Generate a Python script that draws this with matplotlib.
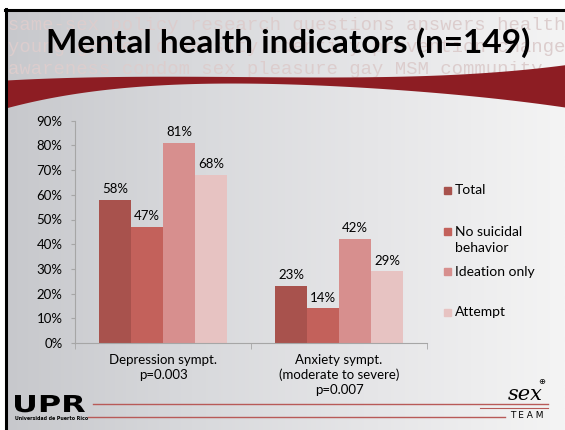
import numpy as np
import matplotlib.pyplot as plt
from matplotlib.colors import LinearSegmentedColormap
from matplotlib.patches import Rectangle, PathPatch
from matplotlib.textpath import TextPath
from matplotlib.font_manager import FontProperties
from matplotlib.transforms import Affine2D

plt.rcParams['font.family'] = ['Lato', 'DejaVu Sans']

# data
categories = ['Depression sympt.\np=0.003', 'Anxiety sympt.\n(moderate to severe)\np=0.007']
groups = ['Total', 'No suicidal\nbehavior', 'Ideation only', 'Attempt']
total = [58, 23]
no_suicidal = [47, 14]
ideation = [81, 42]
attempt = [68, 29]
yticks = [0, 10, 20, 30, 40, 50, 60, 70, 80, 90]
colors = ['#a8524d', '#c3615b', '#d78f8e', '#e7c3c2']

W, H = 565, 430
fig = plt.figure(figsize=(W / 100, H / 100), dpi=100)

# slide background in pixel coords
bg = fig.add_axes([0, 0, 1, 1])
grad = np.linspace(0, 1, 256).reshape(1, -1)
cmap = LinearSegmentedColormap.from_list('slide', ['#c7c8cc', '#d8d9dc', '#e6e6e8', '#f4f4f4'])
bg.imshow(grad, cmap=cmap, extent=[5, W, H, 9], aspect='auto', zorder=0)
bg.set_xlim(0, W)
bg.set_ylim(H, 0)
bg.axis('off')
bg.plot([6, 6], [9, H], color='black', lw=2.2, zorder=5)
bg.plot([5, W], [10, 10], color='black', lw=2.2, zorder=5)

# watermark words behind the title
wm = ['same-sex policy research questions answers health',
      'young gender diversity identity prevention change',
      'awareness condom sex pleasure gay MSM community']
for row, y in zip(wm, [25, 47, 70]):
    bg.text(8, y, row, family='Liberation Mono', fontsize=13.6, color='#dccdcd',
            ha='left', va='center', zorder=1)

# red swoosh
xs = np.linspace(5, W, 300)
top = np.polyval(np.polyfit([5, 100, 200, 330, 450, 520, 565],
                            [80, 77, 76, 77, 75, 69, 65], 4), xs)
bot = np.polyval(np.polyfit([5, 50, 100, 200, 300, 400, 480, 565],
                            [108, 98, 90, 83, 85, 89, 97, 107], 4), xs)
bg.fill_between(xs, top, bot, color='#8d1d23', lw=0, zorder=2)

bg.text(288, 43, 'Mental health indicators (n=149)', fontsize=24, fontweight='bold',
        ha='center', va='center', color='black', zorder=3)

# legend, drawn by hand to match the PowerPoint spacing
for lab, c, y in zip(groups, colors, [190, 231, 271, 312]):
    bg.add_patch(Rectangle((444, y - 3.5), 7, 7, color=c, zorder=3))
    bg.text(455, y - 5.5, lab, fontsize=10, ha='left', va='top', linespacing=1.45, zorder=3)

# footer: logos and rules
upr = TextPath((0, 0), 'UPR', size=1, prop=FontProperties(family='DejaVu Sans', weight='bold'))
ext = upr.get_extents()
sx = 70 / ext.width
sy = 17 / 0.73
upr_tr = Affine2D().translate(-ext.x0, 0).scale(sx, -sy).translate(15, 412)
bg.add_patch(PathPatch(upr_tr.transform_path(upr), color='black', lw=0, zorder=3))
bg.text(15, 419, 'Universidad de Puerto Rico', fontsize=3.4, fontweight='bold',
        family='DejaVu Sans', ha='left', va='center', zorder=3)
bg.plot([93, 548], [404, 404], color='#b85a58', lw=1, zorder=3)
bg.plot([480, 548], [407.5, 407.5], color='#b85a58', lw=0.8, zorder=3)
bg.plot([88, 505], [417, 417], color='#b85a58', lw=1, zorder=3)
bg.text(525, 394, 'sex', fontsize=15, family='DejaVu Serif', style='italic',
        ha='center', va='center', zorder=3)
bg.text(542, 381, '\u2295', fontsize=6, family='DejaVu Sans', ha='center', va='center', zorder=3)
bg.text(527, 415, 'T E A M', fontsize=6.5, family='DejaVu Sans', ha='center', va='center', zorder=3)

# chart
ax = fig.add_axes([75 / W, (H - 343) / H, 352 / W, (343 - 120.7) / H])
ax.patch.set_alpha(0)
x = np.arange(len(categories))
w = 0.182
for i, (vals, c) in enumerate(zip([total, no_suicidal, ideation, attempt], colors)):
    bars = ax.bar(x + (i - 1.5) * w, vals, w, color=c)
    ax.bar_label(bars, labels=[f'{v}%' for v in vals], padding=3.5, fontsize=9.5)

ax.set_xlim(-0.5, 1.5)
ax.set_ylim(0, 90)
ax.set_yticks(yticks)
ax.set_yticklabels([f'{t}%' for t in yticks])
ax.set_xticks(x)
ax.set_xticklabels(categories, fontsize=9.5, linespacing=1.25)
ax.set_xticks([-0.5, 0.5, 1.5], minor=True)
ax.tick_params(axis='x', which='major', length=0, pad=8)
ax.tick_params(axis='x', which='minor', length=4, color='#a6a6a6')
ax.tick_params(axis='y', length=3, color='#a6a6a6', labelsize=9.5, pad=6)
for s in ['top', 'right']:
    ax.spines[s].set_visible(False)
for s in ['left', 'bottom']:
    ax.spines[s].set_color('#a6a6a6')

fig.savefig('out.png', dpi=100)
